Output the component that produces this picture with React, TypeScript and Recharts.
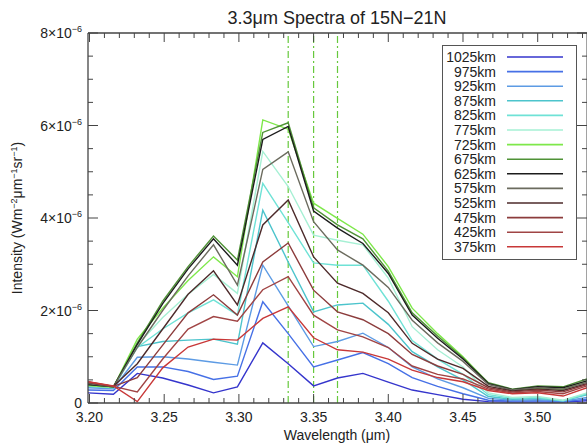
import React from 'react';
import { LineChart, Line, XAxis, YAxis, ReferenceLine, Legend } from 'recharts';

// wavelength grid (um)
const WAVELENGTH = [3.199, 3.216, 3.232, 3.249, 3.266, 3.283, 3.299, 3.316, 3.333, 3.35, 3.366, 3.383, 3.4, 3.416, 3.433, 3.45, 3.467, 3.483, 3.5, 3.517, 3.533];

// intensity per altitude, in units of 1e-6 W m-2 um-1 sr-1
const I1025 = [0.22, 0.19, 0.64, 0.54, 0.39, 0.22, 0.35, 1.3, 0.85, 0.37, 0.54, 0.64, 0.45, 0.28, 0.18, 0.08, 0.03, 0.02, 0.02, 0.02, 0.05];
const I975 = [0.28, 0.27, 0.78, 0.78, 0.68, 0.51, 0.58, 2.19, 1.5, 0.78, 0.93, 1.09, 0.85, 0.55, 0.36, 0.2, 0.06, 0.04, 0.05, 0.03, 0.08];
const I925 = [0.33, 0.31, 0.99, 1.0, 0.95, 0.88, 0.82, 2.98, 2.1, 1.22, 1.33, 1.51, 1.2, 0.78, 0.52, 0.33, 0.1, 0.06, 0.07, 0.04, 0.12];
const I875 = [0.36, 0.33, 1.22, 1.33, 1.36, 1.38, 1.27, 4.17, 3.05, 1.97, 2.12, 2.16, 1.7, 1.11, 0.78, 0.5, 0.14, 0.08, 0.1, 0.05, 0.18];
const I825 = [0.37, 0.33, 1.2, 1.6, 1.95, 2.23, 1.9, 4.75, 3.9, 3.03, 2.98, 2.98, 2.2, 1.35, 0.95, 0.62, 0.18, 0.1, 0.12, 0.05, 0.2];
const I775 = [0.38, 0.34, 1.25, 1.85, 2.35, 2.78, 2.37, 5.44, 4.68, 3.63, 3.52, 3.42, 2.7, 1.65, 1.15, 0.78, 0.22, 0.12, 0.14, 0.06, 0.22];
const I725 = [0.38, 0.34, 1.38, 2.05, 2.65, 3.16, 2.73, 6.12, 5.92, 4.32, 3.99, 3.65, 2.95, 2.05, 1.5, 1.0, 0.42, 0.28, 0.32, 0.3, 0.48];
const I675 = [0.4, 0.35, 1.3, 2.2, 2.95, 3.61, 3.09, 5.85, 6.06, 4.22, 3.85, 3.55, 2.85, 1.95, 1.45, 0.98, 0.44, 0.3, 0.37, 0.35, 0.52];
const I625 = [0.4, 0.35, 1.27, 2.15, 2.9, 3.55, 2.98, 5.7, 5.98, 4.15, 3.78, 3.45, 2.8, 1.9, 1.4, 0.95, 0.42, 0.29, 0.35, 0.33, 0.48];
const I575 = [0.42, 0.35, 1.2, 2.0, 2.75, 3.42, 2.55, 5.05, 5.43, 3.92, 3.31, 2.98, 2.5, 1.79, 1.3, 0.9, 0.4, 0.28, 0.33, 0.3, 0.45];
const I525 = [0.44, 0.36, 0.85, 1.6, 2.35, 2.86, 2.12, 3.85, 4.39, 3.16, 2.59, 2.37, 1.95, 1.29, 0.95, 0.75, 0.36, 0.26, 0.3, 0.27, 0.42];
const I475 = [0.45, 0.36, 0.55, 1.25, 1.95, 2.34, 1.9, 3.05, 3.46, 2.44, 1.97, 1.8, 1.5, 1.05, 0.8, 0.62, 0.33, 0.24, 0.28, 0.24, 0.4];
const I425 = [0.46, 0.36, 0.24, 0.95, 1.6, 1.87, 1.77, 2.45, 2.73, 1.9, 1.58, 1.43, 1.2, 0.8, 0.62, 0.52, 0.3, 0.22, 0.25, 0.2, 0.37];
const I375 = [0.46, 0.37, 0.03, 0.76, 1.21, 1.38, 1.36, 1.83, 2.08, 1.41, 1.15, 1.1, 0.95, 0.71, 0.55, 0.46, 0.27, 0.2, 0.22, 0.15, 0.33];

const SERIES = [
    { name: '1025km', values: I1025, color: '#3535cc' },
    { name: '975km', values: I975, color: '#4670e6' },
    { name: '925km', values: I925, color: '#5d9be4' },
    { name: '875km', values: I875, color: '#4cc4cc' },
    { name: '825km', values: I825, color: '#6fe2d6' },
    { name: '775km', values: I775, color: '#a6f0d4' },
    { name: '725km', values: I725, color: '#7ee84a' },
    { name: '675km', values: I675, color: '#4f9236' },
    { name: '625km', values: I625, color: '#1c1c1c' },
    { name: '575km', values: I575, color: '#6b6b5e' },
    { name: '525km', values: I525, color: '#4d2a2a' },
    { name: '475km', values: I475, color: '#8c3c3c' },
    { name: '425km', values: I425, color: '#a04444' },
    { name: '375km', values: I375, color: '#c83838' },
];

// dash-dot marker wavelengths
const MARKERS = [3.333, 3.35, 3.366];

const X_MAJOR = [3.2, 3.25, 3.3, 3.35, 3.4, 3.45, 3.5];
const X_TICKS = [3.2, 3.21, 3.22, 3.23, 3.24, 3.25, 3.26, 3.27, 3.28, 3.29, 3.3, 3.31, 3.32, 3.33, 3.34, 3.35, 3.36, 3.37, 3.38, 3.39, 3.4, 3.41, 3.42, 3.43, 3.44, 3.45, 3.46, 3.47, 3.48, 3.49, 3.5, 3.51, 3.52, 3.53];
const Y_MAJOR = [0, 2, 4, 6, 8];
const Y_TICKS = [0, 0.5, 1, 1.5, 2, 2.5, 3, 3.5, 4, 4.5, 5, 5.5, 6, 6.5, 7, 7.5, 8];

const data = WAVELENGTH.map((w, i) => {
    const row: Record<string, number> = { w };
    SERIES.forEach((s) => {
        row[s.name] = s.values[i];
    });
    return row;
});

const FONT = '"Liberation Sans", Arial, Helvetica, sans-serif';
const AXIS = '#444';
const TEXT = '#222';

const near = (list: number[], v: number) => list.some((m) => Math.abs(m - v) < 1e-6);

const BottomTick = (props: any) => {
    const { x, y, payload } = props;
    const major = near(X_MAJOR, payload.value);
    return (
        <g>
            <line x1={x} x2={x} y1={y} y2={y - (major ? 9 : 5)} stroke={AXIS} />
            {major && (
                <text x={x} y={y + 19} textAnchor="middle" fontSize={14} fill={TEXT} fontFamily={FONT}>
                    {payload.value.toFixed(2)}
                </text>
            )}
        </g>
    );
};

const TopTick = (props: any) => {
    const { x, y, payload } = props;
    const major = near(X_MAJOR, payload.value);
    return <line x1={x} x2={x} y1={y} y2={y + (major ? 9 : 5)} stroke={AXIS} />;
};

const LeftTick = (props: any) => {
    const { x, y, payload } = props;
    const v = payload.value;
    const major = near(Y_MAJOR, v);
    return (
        <g>
            <line x1={x} x2={x + (major ? 10 : 5)} y1={y} y2={y} stroke={AXIS} />
            {major && (
                <text x={x - 6} y={y + 5} textAnchor="end" fontSize={14} fill={TEXT} fontFamily={FONT}>
                    {v === 0 ? (
                        '0'
                    ) : (
                        <>
                            {`${v}×10`}
                            <tspan dy={-6} fontSize={9}>−6</tspan>
                        </>
                    )}
                </text>
            )}
        </g>
    );
};

const RightTick = (props: any) => {
    const { x, y, payload } = props;
    const major = near(Y_MAJOR, payload.value);
    return <line x1={x} x2={x - (major ? 10 : 5)} y1={y} y2={y} stroke={AXIS} />;
};

const LegendBox = () => (
    <svg width={135} height={215}>
        <rect x={0.5} y={0.5} width={134} height={214} fill="#fff" stroke="#555" />
        {SERIES.map((s, i) => {
            const cy = 12 + i * 14.6;
            return (
                <g key={s.name}>
                    <text x={54} y={cy + 5} textAnchor="end" fontSize={14} fill={TEXT} fontFamily={FONT}>
                        {s.name}
                    </text>
                    <line x1={65} x2={121} y1={cy} y2={cy} stroke={s.color} strokeWidth={1.6} />
                </g>
            );
        })}
    </svg>
);

export default function App() {
    return (
        <div style={{ position: 'absolute', left: 0, top: 0, width: 587, height: 443, overflow: 'hidden', background: '#fff' }}>
            <LineChart width={600} height={443} data={data} margin={{ top: 32, right: 12, bottom: 10, left: 28 }}>
                <XAxis
                    dataKey="w"
                    type="number"
                    domain={[3.199, 3.533]}
                    allowDataOverflow
                    ticks={X_TICKS}
                    interval={0}
                    tickSize={0}
                    tickMargin={0}
                    tickLine={false}
                    tick={BottomTick}
                    height={30}
                    axisLine={{ stroke: AXIS, strokeWidth: 1.3 }}
                />
                <XAxis
                    xAxisId="top"
                    orientation="top"
                    dataKey="w"
                    type="number"
                    domain={[3.199, 3.533]}
                    allowDataOverflow
                    ticks={X_TICKS}
                    interval={0}
                    tickSize={0}
                    tickMargin={0}
                    tickLine={false}
                    tick={TopTick}
                    height={1}
                    axisLine={{ stroke: AXIS, strokeWidth: 1.3 }}
                />
                <YAxis
                    type="number"
                    domain={[0, 8]}
                    allowDataOverflow
                    ticks={Y_TICKS}
                    interval={0}
                    tickSize={0}
                    tickMargin={0}
                    tickLine={false}
                    tick={LeftTick}
                    width={60}
                    axisLine={{ stroke: AXIS, strokeWidth: 1.3 }}
                />
                <YAxis
                    yAxisId="right"
                    orientation="right"
                    type="number"
                    domain={[0, 8]}
                    allowDataOverflow
                    ticks={Y_TICKS}
                    interval={0}
                    tickSize={0}
                    tickMargin={0}
                    tickLine={false}
                    tick={RightTick}
                    width={1}
                    axisLine={{ stroke: AXIS }}
                />
                {MARKERS.map((m) => (
                    <ReferenceLine key={m} x={m} stroke="#66c83c" strokeWidth={1.2} strokeDasharray="7 3 2 3" />
                ))}
                {SERIES.map((s) => (
                    <Line
                        key={s.name}
                        dataKey={s.name}
                        stroke={s.color}
                        strokeWidth={1.4}
                        dot={false}
                        activeDot={false}
                        isAnimationActive={false}
                    />
                ))}
                <Legend
                    layout="vertical"
                    align="center"
                    verticalAlign="middle"
                    content={LegendBox}
                    wrapperStyle={{ left: 442, top: 45, width: 135, height: 215 }}
                />
            </LineChart>
            <svg width={587} height={443} style={{ position: 'absolute', left: 0, top: 0, pointerEvents: 'none' }} fontFamily={FONT} fill={TEXT}>
                <text x={337} y={24} textAnchor="middle" fontSize={18}>
                    3.3μm Spectra of 15N−21N
                </text>
                <text x={337} y={440} textAnchor="middle" fontSize={14}>
                    Wavelength (μm)
                </text>
                <text transform="translate(22,218) rotate(-90)" textAnchor="middle" fontSize={14}>
                    Intensity (Wm
                    <tspan dy={-5} fontSize={9}>−2</tspan>
                    <tspan dy={5}>μm</tspan>
                    <tspan dy={-5} fontSize={9}>−1</tspan>
                    <tspan dy={5}>sr</tspan>
                    <tspan dy={-5} fontSize={9}>−1</tspan>
                    <tspan dy={5}>)</tspan>
                </text>
            </svg>
        </div>
    );
}
